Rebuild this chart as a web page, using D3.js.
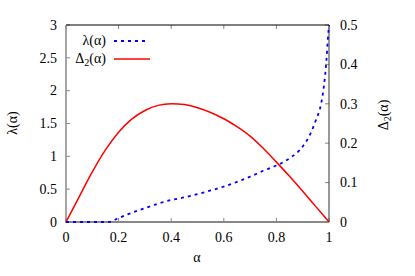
<!DOCTYPE html>
<html><head><meta charset="utf-8">
<script src="https://cdn.jsdelivr.net/npm/d3@7"></script>
<style>body{margin:0;background:#fff}svg{display:block}</style>
</head><body>
<script>
const alphaDelta = [0,0.05,0.1,0.15,0.2,0.25,0.3,0.35,0.4,0.45,0.5,0.55,0.6,0.65,0.7,0.75,0.8,0.85,0.9,0.95,1.0];
const delta2 = [0,0.064,0.127,0.183,0.228,0.261,0.283,0.296,0.300,0.298,0.290,0.278,0.262,0.242,0.218,0.187,0.152,0.116,0.078,0.039,0];
const alphaLambda = [0,0.05,0.1,0.15,0.165,0.2,0.25,0.3,0.35,0.4,0.45,0.5,0.55,0.6,0.65,0.7,0.75,0.8,0.85,0.9,0.93,0.95,0.97,0.98,0.99,0.995,1.0];
const lambda = [0,0,0,0,0.003,0.06,0.14,0.21,0.28,0.335,0.375,0.425,0.48,0.54,0.61,0.69,0.78,0.86,0.97,1.15,1.35,1.55,1.8,2.05,2.45,2.75,3.0];
const xTicks = [0,0.2,0.4,0.6,0.8,1];
const yTicks = [0,0.5,1,1.5,2,2.5,3];
const y2Ticks = [0,0.1,0.2,0.3,0.4,0.5];
const legendLabels = ["λ(α)", "Δ2(α)"];

const FONT = "Liberation Serif";
const W=415,H=276;
const L=66,R=329,T=25,B=222;
const svg=d3.select("body").append("svg").attr("width",W).attr("height",H)
  .attr("font-family",FONT);
const x=d3.scaleLinear().domain([0,1]).range([L,R]);
const y=d3.scaleLinear().domain([0,3]).range([B,T]);
const y2=d3.scaleLinear().domain([0,0.5]).range([B,T]);
const fmt=d=>String(d);

// ticks (inward)
const tk=svg.append("g").attr("stroke","#888").attr("stroke-width",1);
xTicks.forEach(v=>{
  tk.append("line").attr("x1",x(v)).attr("x2",x(v)).attr("y1",B).attr("y2",B-4);
  tk.append("line").attr("x1",x(v)).attr("x2",x(v)).attr("y1",T).attr("y2",T+4);
});
yTicks.forEach(v=>{
  tk.append("line").attr("x1",L).attr("x2",L+4).attr("y1",y(v)).attr("y2",y(v));
});
y2Ticks.forEach(v=>{
  tk.append("line").attr("x1",R).attr("x2",R-4).attr("y1",y2(v)).attr("y2",y2(v));
});

// border
svg.append("line").attr("x1",L).attr("x2",R).attr("y1",T).attr("y2",T).attr("stroke","#000").attr("stroke-width",1);
svg.append("line").attr("x1",R).attr("x2",R).attr("y1",T).attr("y2",B).attr("stroke","#333").attr("stroke-width",1);
svg.append("line").attr("x1",L).attr("x2",L).attr("y1",T).attr("y2",B+1).attr("stroke","#888").attr("stroke-width",1.5);
svg.append("line").attr("x1",L-0.5).attr("x2",R).attr("y1",B).attr("y2",B).attr("stroke","#888").attr("stroke-width",2);

// tick labels
const fs=14;
const txt=(sel)=>sel.attr("font-family",FONT).attr("font-size",fs).attr("fill","#000");
xTicks.forEach(v=>txt(svg.append("text")).attr("x",x(v)).attr("y",B+19.5).attr("text-anchor","middle").text(fmt(v)));
yTicks.forEach(v=>txt(svg.append("text")).attr("x",57).attr("y",y(v)+4.8).attr("text-anchor","end").text(fmt(v)));
y2Ticks.forEach(v=>txt(svg.append("text")).attr("x",340).attr("y",y2(v)+4.8).attr("text-anchor","start").text(fmt(v)));

// axis titles
txt(svg.append("text")).attr("x",197).attr("y",262).attr("text-anchor","middle").text("α");
txt(svg.append("text")).attr("transform","translate(17,123) rotate(-90)").attr("text-anchor","middle").text("λ(α)");
const t2=txt(svg.append("text")).attr("transform","translate(388,115) rotate(-90)").attr("text-anchor","middle");
t2.append("tspan").text("Δ");
t2.append("tspan").attr("font-size",10).attr("dy",3).text("2");
t2.append("tspan").attr("dy",-3).text("(α)");

// curves
const lineL=d3.line().x(d=>x(d[0])).y(d=>y(d[1])).curve(d3.curveMonotoneX);
const lineD=d3.line().x(d=>x(d[0])).y(d=>y2(d[1])).curve(d3.curveMonotoneX);
svg.append("path").datum(alphaDelta.map((a,i)=>[a,delta2[i]])).attr("d",lineD)
  .attr("fill","none").attr("stroke","#ff0000").attr("stroke-width",1.5);
svg.append("path").datum(alphaLambda.map((a,i)=>[a,lambda[i]])).attr("d",lineL)
  .attr("fill","none").attr("stroke","#0000ff").attr("stroke-width",1.8).attr("stroke-dasharray","3,4");

// legend
const lg=svg.append("g");
txt(lg.append("text")).attr("x",106).attr("y",45).attr("text-anchor","end").text(legendLabels[0]);
lg.append("line").attr("x1",114).attr("x2",149).attr("y1",41).attr("y2",41).attr("stroke","#0000ff").attr("stroke-width",1.8).attr("stroke-dasharray","3,4");
const lt=txt(lg.append("text")).attr("x",106).attr("y",63).attr("text-anchor","end");
lt.append("tspan").text("Δ");
lt.append("tspan").attr("font-size",10).attr("dy",3).text("2");
lt.append("tspan").attr("dy",-3).text("(α)");
lg.append("line").attr("x1",114).attr("x2",150).attr("y1",59).attr("y2",59).attr("stroke","#ff0000").attr("stroke-width",1.5);
</script>
</body></html>
